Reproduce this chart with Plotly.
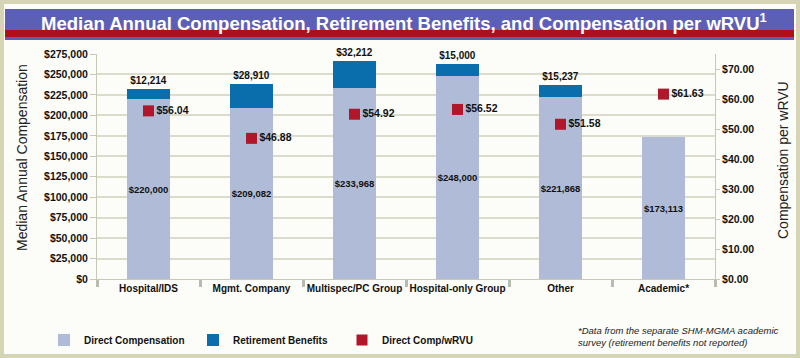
import plotly.graph_objects as go

categories = ["Hospital/IDS", "Mgmt. Company", "Multispec/PC Group", "Hospital-only Group", "Other", "Academic*"]
direct_comp = [220000, 209082, 233968, 248000, 221868, 173113]
retirement = [12214, 28910, 32212, 15000, 15237, None]
comp_per_wrvu = [56.04, 46.88, 54.92, 56.52, 51.58, 61.63]
left_ticks = list(range(0, 275001, 25000))
right_ticks = list(range(0, 71, 10))

# layout geometry (pixels)
W, H = 800, 358
L, R, T, B = 97, 715, 54, 279
pw, ph = R - L, B - T

def px(x):
    return (x - L) / pw

def py(y):
    return (B - y) / ph

COND = "Liberation Sans, Arial, sans-serif"
REG = "Liberation Sans, Arial, sans-serif"
BG = "#fcfcf8"
TXT = "#111111"

fig = go.Figure()
fig.add_trace(go.Bar(
    x=categories, y=direct_comp, name="Direct Compensation",
    marker=dict(color="#b0bcd7", line=dict(width=0)),
    text=[f"${v:,.0f}" for v in direct_comp], textposition="inside",
    insidetextanchor="middle", textangle=0, constraintext="none",
    textfont=dict(family=COND, size=9.5, color=TXT, weight="bold"),
    width=0.41,
))
fig.add_trace(go.Bar(
    x=categories, y=retirement, name="Retirement Benefits",
    marker=dict(color="#0a6dac", line=dict(width=0)),
    text=[f"${v:,.0f}" if v else "" for v in retirement], textposition="outside",
    textangle=0, cliponaxis=False, constraintext="none",
    textfont=dict(family=COND, size=10, color=TXT, weight="bold"),
    width=0.41,
))
fig.add_trace(go.Scatter(
    x=categories, y=comp_per_wrvu, name="Direct Comp/wRVU", yaxis="y2",
    mode="markers+text",
    marker=dict(symbol="square", size=11, color="#b0172b"),
    text=[f"${v:.2f}" for v in comp_per_wrvu], textposition="middle right",
    textfont=dict(family=COND, size=10.5, color=TXT, weight="bold"),
    cliponaxis=False,
))

shapes = [
    dict(type="rect", xref="paper", yref="paper", x0=px(4), x1=px(796), y0=py(4), y1=py(354),
         fillcolor=BG, line=dict(width=0), layer="below"),
    dict(type="rect", xref="paper", yref="paper", x0=px(5), x1=px(794), y0=py(9), y1=py(40),
         fillcolor="#5b60b6", line=dict(width=0), layer="below"),
    dict(type="rect", xref="paper", yref="paper", x0=px(5), x1=px(794), y0=py(30), y1=py(37),
         fillcolor="#ae0f1f", line=dict(width=0), layer="below"),
]

annotations = [
    dict(text="Median Annual Compensation, Retirement Benefits, and Compensation per wRVU<sup>1</sup>",
         xref="paper", yref="paper", x=px(404), y=py(22), xanchor="center", yanchor="middle",
         showarrow=False, font=dict(family=COND, size=18.5, color="white", weight="bold")),
    dict(text="Median Annual Compensation", xref="paper", yref="paper", x=px(22), y=py(158),
         textangle=-90, showarrow=False, xanchor="center", yanchor="middle",
         font=dict(family=REG, size=14, color="#222222")),
    dict(text="Compensation per wRVU", xref="paper", yref="paper", x=px(783), y=py(160),
         textangle=-90, showarrow=False, xanchor="center", yanchor="middle",
         font=dict(family=REG, size=14, color="#222222")),
    dict(text="<i>*Data from the separate SHM-MGMA academic<br>survey (retirement benefits not reported)</i>",
         xref="paper", yref="paper", x=px(576), y=py(323), xanchor="left", yanchor="top",
         align="left", showarrow=False, font=dict(family=REG, size=9.5, color="#222222")),
]

fig.update_layout(
    width=W, height=H,
    margin=dict(l=L, r=W - R, t=T, b=H - B, pad=0, autoexpand=False),
    paper_bgcolor="#d5d5b5", plot_bgcolor=BG,
    barmode="stack", bargap=0.59,
    showlegend=True,
    legend=dict(orientation="h", xref="container", yref="container",
                x=44 / W, y=1 - 340 / H, xanchor="left", yanchor="middle",
                entrywidth=104, entrywidthmode="pixels", itemwidth=30,
                font=dict(family=COND, size=10, color=TXT, weight="bold"),
                bgcolor="rgba(0,0,0,0)", traceorder="normal"),
    xaxis=dict(
        type="category", tickson="boundaries", ticks="outside", ticklen=7, tickwidth=3,
        tickcolor="#b8bcae", showline=True, linecolor="#c8c8b8", linewidth=1,
        showgrid=False, tickangle=0, automargin=False,
        tickfont=dict(family=COND, size=10, color=TXT, weight="bold"),
    ),
    yaxis=dict(
        range=[0, 275000], tickvals=left_ticks,
        ticktext=[f"${v:,.0f}" for v in left_ticks],
        ticks="outside", ticklen=6, tickcolor="#c8c8b8", automargin=False,
        showgrid=True, gridcolor="#dcdccc", gridwidth=1.5,
        showline=True, linecolor="#c8c8b8", zeroline=False,
        tickfont=dict(family=COND, size=10.5, color=TXT, weight="bold"),
    ),
    yaxis2=dict(
        overlaying="y", side="right", range=[0, 75], tickvals=right_ticks,
        ticktext=[f"${v:.2f}" for v in right_ticks],
        ticks="outside", ticklen=4, tickcolor="#c8c8b8", automargin=False,
        showgrid=False, showline=True, linecolor="#c8c8b8", zeroline=False,
        tickfont=dict(family=COND, size=10.5, color=TXT, weight="bold"),
    ),
    shapes=shapes, annotations=annotations,
)

fig.write_html("out.html", config={"displayModeBar": False},
               post_script="document.body.style.margin='0';")
